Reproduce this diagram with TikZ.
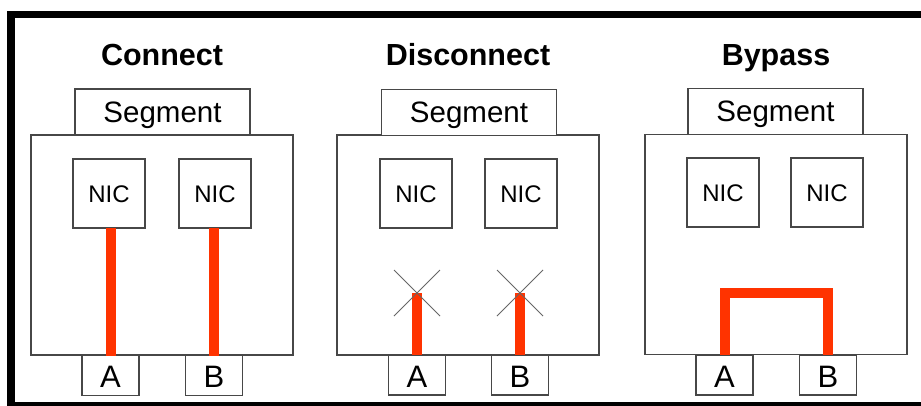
\documentclass[tikz,border=0pt]{standalone}
\usepackage{fontspec}
\setmainfont{Liberation Sans}
\begin{document}
\begin{tikzpicture}[x=1pt,y=-1pt,
  box/.style={draw=black!72,line width=1.3pt,fill=white,inner sep=0pt,outer sep=0pt},
  outerbox/.style={box,minimum width=262pt,minimum height=220pt},
  segbox/.style={box,minimum width=175pt,minimum height=46pt,text height=21pt,text depth=1pt,font=\fontsize{29.5}{34}\selectfont},
  nicbox/.style={box,minimum width=72pt,minimum height=69pt,text height=17pt,text depth=0pt,font=\fontsize{24}{28}\selectfont},
  portbox/.style={box,minimum width=57pt,minimum height=40pt,text height=24pt,text depth=0pt,font=\fontsize{31}{36}\selectfont},
  titletext/.style={anchor=base,inner sep=0pt,font=\fontsize{30.5}{36}\selectfont\bfseries},
  redwire/.style={color={rgb,255:red,255;green,51;blue,0},line width=10pt},
  crossline/.style={draw=black!60,line width=1pt}]
\useasboundingbox (0,0) rectangle (921,405);
\clip (0,0) rectangle (921,405);
\draw[line width=7.5pt] (11,14.5) rectangle (940,406);

% ---------- Connect ----------
\begin{scope}[shift={(31,0)}]
  \node[titletext] (c-title) at (131,65) {Connect};
  \node[outerbox] (c-box) at (131,245) {};
  \node[segbox] (c-seg) at (131.5,112) {Segment};
  \node[nicbox] (c-n1) at (78,193.5) {NIC};
  \node[nicbox] (c-n2) at (184,193.5) {NIC};
  \node[portbox] (c-a) at (79.5,375.5) {A};
  \node[portbox] (c-b) at (183,375.5) {B};
  \draw[redwire] (c-a.north) -- (c-a.north |- c-n1.south);
  \draw[redwire] (c-b.north) -- (c-b.north |- c-n2.south);
\end{scope}

% ---------- Disconnect ----------
\begin{scope}[shift={(337,0)}]
  \node[titletext] (d-title) at (131,65) {Disconnect};
  \node[outerbox] (d-box) at (131,245) {};
  \node[segbox] (d-seg) at (132,112.5) {Segment};
  \node[nicbox] (d-n1) at (79,193.5) {NIC};
  \node[nicbox] (d-n2) at (184,193.5) {NIC};
  \node[portbox] (d-a) at (80,375) {A};
  \node[portbox] (d-b) at (183,375) {B};
  \coordinate (d-xa) at (80,293);
  \coordinate (d-xb) at (183,293);
  \draw[redwire] (d-a.north) -- (d-xa);
  \draw[redwire] (d-b.north) -- (d-xb);
  \foreach \c in {d-xa,d-xb}{
    \draw[crossline] ([shift={(-23,-23)}]\c) -- ([shift={(23,23)}]\c);
    \draw[crossline] ([shift={(-23,23)}]\c) -- ([shift={(23,-23)}]\c);
  }
\end{scope}

% ---------- Bypass ----------
\begin{scope}[shift={(645,0)}]
  \node[titletext] (y-title) at (131,65) {Bypass};
  \node[outerbox] (y-box) at (131,244.5) {};
  \node[segbox] (y-seg) at (130.5,111.5) {Segment};
  \node[nicbox] (y-n1) at (78,192.5) {NIC};
  \node[nicbox] (y-n2) at (182,192.5) {NIC};
  \node[portbox] (y-a) at (79.5,375) {A};
  \node[portbox] (y-b) at (183,375) {B};
  \coordinate (y-top) at (131,293);
  \draw[redwire,line join=miter] (y-a.north) -- (y-a.north |- y-top) -- (y-b.north |- y-top) -- (y-b.north);
\end{scope}
\end{tikzpicture}
\end{document}
